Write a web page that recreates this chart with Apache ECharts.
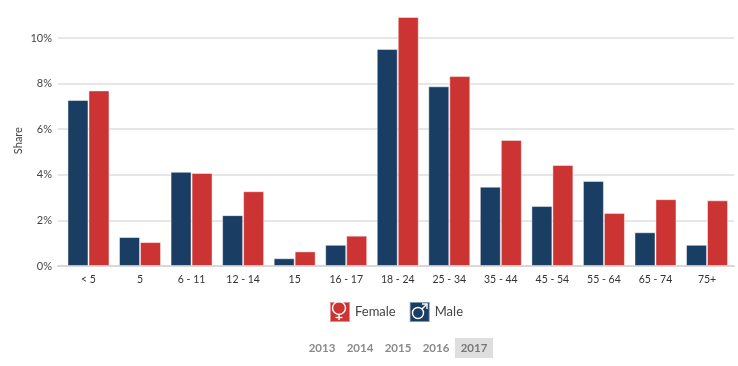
<!DOCTYPE html>
<html>
<head>
<meta charset="utf-8">
<style>html,body{margin:0;background:#fff}#main{width:738px;height:366px}</style>
<script src="https://cdn.jsdelivr.net/npm/echarts@6/dist/echarts.min.js"></script>
</head>
<body>
<div id="main"></div>
<script>
var ageGroups = ['< 5', '5', '6 - 11', '12 - 14', '15', '16 - 17', '18 - 24', '25 - 34', '35 - 44', '45 - 54', '55 - 64', '65 - 74', '75+'];
var male = [7.28, 1.27, 4.13, 2.23, 0.34, 0.93, 9.52, 7.88, 3.48, 2.63, 3.73, 1.48, 0.93];
var female = [7.7, 1.05, 4.08, 3.28, 0.64, 1.33, 10.92, 8.33, 5.53, 4.43, 2.33, 2.93, 2.88];
var years = ['2013', '2014', '2015', '2016', '2017'];
var activeYear = '2017';

var fontName = 'Lato';
var RED = '#cc3333';
var BLUE = '#1a3d63';

var myChart = echarts.init(document.getElementById('main'));

var graphics = [];

function glyph(el) {
    el.z = 100;
    graphics.push(el);
}

// the white gender glyphs on top of the legend squares
var glyphStyle = { fill: 'none', stroke: '#fff', lineWidth: 1.4 };
glyph({ type: 'circle', shape: { cx: 339, cy: 308, r: 6.5 }, style: glyphStyle });
glyph({ type: 'line', shape: { x1: 339, y1: 314.5, x2: 339, y2: 320 }, style: glyphStyle });
glyph({ type: 'line', shape: { x1: 335.5, y1: 317.5, x2: 342.5, y2: 317.5 }, style: glyphStyle });
glyph({ type: 'circle', shape: { cx: 418, cy: 313, r: 5.5 }, style: glyphStyle });
glyph({ type: 'line', shape: { x1: 422, y1: 309, x2: 427, y2: 304 }, style: glyphStyle });
glyph({ type: 'polyline', shape: { points: [[422, 304], [427, 304], [427, 309]] }, style: glyphStyle });

// year selector
graphics.push({ type: 'rect', shape: { x: 455, y: 338, width: 38, height: 20 }, style: { fill: '#dedede' } });
years.forEach(function (y, i) {
    graphics.push({
        type: 'text',
        z: 100,
        x: 322 + i * 38,
        y: 348,
        style: {
            text: y,
            fill: y === activeYear ? '#777' : '#8a8a8a',
            font: 'bold 11.5px ' + fontName,
            align: 'center',
            verticalAlign: 'middle'
        }
    });
});

var option = {
    animation: false,
    color: [BLUE, RED],
    textStyle: { fontFamily: fontName },
    legend: {
        data: ['Female', 'Male'],
        left: 324,
        top: 296,
        icon: 'rect',
        itemWidth: 20,
        itemHeight: 20,
        itemGap: 13,
        selectedMode: false,
        textStyle: { fontFamily: fontName, fontSize: 13, color: '#444' }
    },
    // grid 0 carries the gridlines, grid 1 the bars: gridlines start a little left of the first category
    grid: [
        { left: 58, right: 4, top: 15.2, height: 250.8 },
        { left: 62.7, right: 5.2, top: 15.2, height: 250.8 }
    ],
    xAxis: [
        {
            gridIndex: 0,
            type: 'value',
            min: 0,
            max: 1,
            axisLine: { show: true, onZero: false, lineStyle: { color: '#d8d8d8', width: 2 } },
            axisTick: { show: false },
            axisLabel: { show: false },
            splitLine: { show: false }
        },
        {
            gridIndex: 1,
            type: 'category',
            data: ageGroups,
            axisLine: { show: false },
            axisTick: { show: false },
            axisLabel: { interval: 0, color: '#333', fontSize: 10.5, fontFamily: fontName, margin: 8 }
        }
    ],
    yAxis: [
        {
            gridIndex: 0,
            type: 'value',
            min: 0,
            max: 11,
            interval: 2,
            name: 'Share',
            nameLocation: 'middle',
            nameGap: 34,
            nameMoveOverlap: false,
            nameTextStyle: { color: '#444', fontSize: 11, fontFamily: fontName },
            axisLine: { show: false },
            axisTick: { show: false },
            axisLabel: {
                color: '#444',
                fontSize: 11,
                fontFamily: fontName,
                margin: 6,
                showMaxLabel: false,
                formatter: '{value}%'
            },
            splitLine: { show: true, showMaxLine: false, showMinLine: false, lineStyle: { color: '#e6e6e6', width: 2 } }
        },
        {
            gridIndex: 1,
            type: 'value',
            min: 0,
            max: 11,
            show: false
        }
    ],
    series: [
        {
            name: 'Male',
            type: 'bar',
            xAxisIndex: 1,
            yAxisIndex: 1,
            data: male,
            barWidth: 21,
            barGap: '0%',
            itemStyle: { borderColor: 'rgba(255,255,255,0.45)', borderWidth: 1 }
        },
        {
            name: 'Female',
            type: 'bar',
            xAxisIndex: 1,
            yAxisIndex: 1,
            data: female,
            barWidth: 21,
            itemStyle: { borderColor: 'rgba(255,255,255,0.45)', borderWidth: 1 }
        }
    ],
    graphic: graphics
};

myChart.setOption(option);
</script>
</body>
</html>
